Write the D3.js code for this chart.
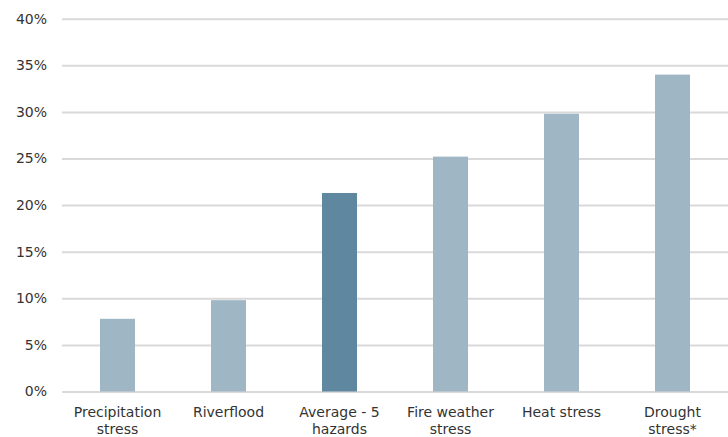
<!DOCTYPE html>
<html>
<head>
<meta charset="utf-8">
<script src="https://cdn.jsdelivr.net/npm/d3@7/dist/d3.min.js"></script>
<style>
  html, body { margin: 0; padding: 0; background: #fff; }
  svg { display: block; }
  text { font-family: "DejaVu Sans", "Noto Sans", sans-serif; fill: #333; }
</style>
</head>
<body>
<svg id="chart" width="728" height="437"></svg>
<script>
// Share of exposure by hazard type
const categories = [
  ["Precipitation", "stress"],
  ["Riverflood"],
  ["Average - 5", "hazards"],
  ["Fire weather", "stress"],
  ["Heat stress"],
  ["Drought", "stress*"]
];
const values = [7.8, 9.8, 21.3, 25.2, 29.8, 34.0];
const highlighted = [false, false, true, false, false, false];
const yTicks = [0, 5, 10, 15, 20, 25, 30, 35, 40];

const W = 728, H = 437;
const margin = { left: 62, right: 0, top: 18.7, bottom: 45.5 };
const svg = d3.select("#chart");

const keys = categories.map(c => c.join(" "));
const x = d3.scaleBand()
  .domain(keys)
  .range([margin.left, W - margin.right])
  .paddingInner(0.685)
  .paddingOuter(0.3425);

const y = d3.scaleLinear()
  .domain([0, 40])
  .range([H - margin.bottom, margin.top]);

// horizontal gridlines with percent labels
const yAxis = d3.axisLeft(y)
  .tickValues(yTicks)
  .tickFormat(d => d + "%")
  .tickSize(-(W - margin.left - margin.right))
  .tickPadding(15);

const gy = svg.append("g")
  .attr("transform", `translate(${margin.left},0)`)
  .call(yAxis);
gy.select(".domain").remove();
gy.selectAll(".tick line").attr("stroke", "#d9d9d9").attr("stroke-width", 2);
gy.selectAll(".tick text")
  .attr("font-size", 14)
  .attr("fill", "#333");

// bars
svg.append("g")
  .selectAll("rect")
  .data(values)
  .join("rect")
  .attr("x", (d, i) => x(keys[i]))
  .attr("width", x.bandwidth())
  .attr("y", d => y(d))
  .attr("height", d => y(0) - y(d))
  .attr("fill", (d, i) => highlighted[i] ? "#5f87a0" : "#9fb6c5");

// category labels (possibly two lines)
const xAxis = d3.axisBottom(x).tickSize(0).tickFormat("");
const gx = svg.append("g")
  .attr("transform", `translate(0,${y(0)})`)
  .call(xAxis);
gx.select(".domain").remove();
gx.selectAll(".tick").each(function(d, i) {
  const t = d3.select(this).append("text")
    .attr("text-anchor", "middle")
    .attr("font-size", 14)
    .attr("fill", "#333");
  categories[i].forEach((line, j) => {
    t.append("tspan")
      .attr("x", 0)
      .attr("y", 25.5 + j * 17)
      .text(line);
  });
});
</script>
</body>
</html>
